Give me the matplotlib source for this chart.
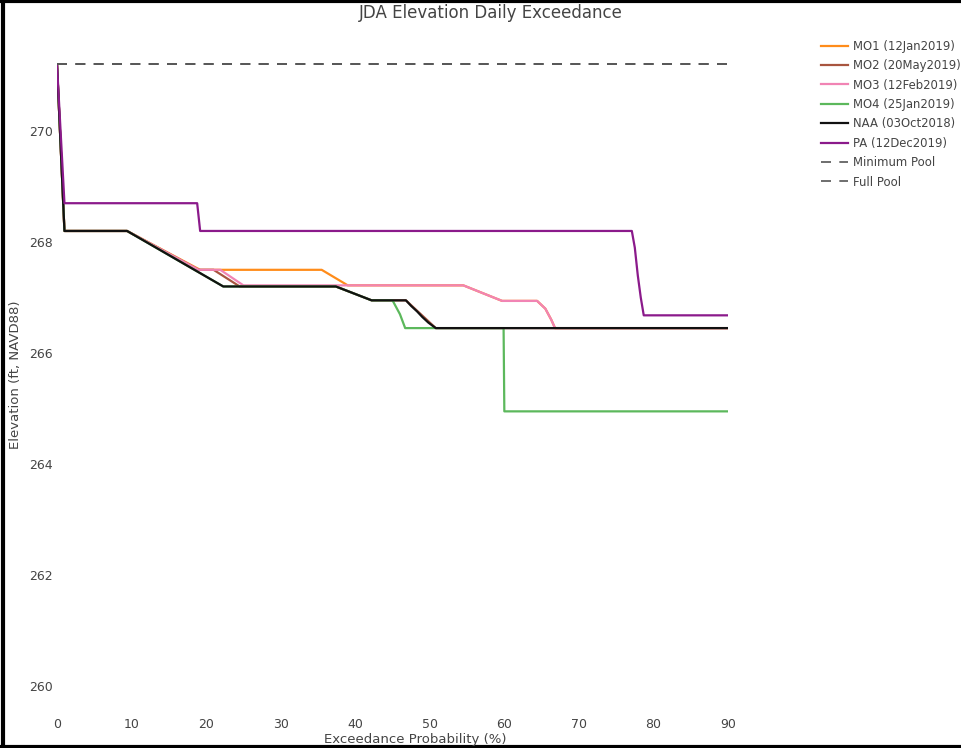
import matplotlib
matplotlib.use("Agg")
import matplotlib.pyplot as plt
from matplotlib.lines import Line2D

# ---- data (exceedance %, elevation ft NAVD88) ----
labels = ["MO1 (12Jan2019)", "MO2 (20May2019)", "MO3 (12Feb2019)",
          "MO4 (25Jan2019)", "NAA (03Oct2018)", "PA (12Dec2019)"]
colors = ["#ff8c1a", "#a8553f", "#f184b4", "#5cb85c", "#111111", "#8b1a8b"]

mo1_x = [0, 1.0, 9.4, 19.2, 35.5, 39.0, 54.5, 59.7, 64.4, 65.5, 66.3, 66.8, 90]
mo1_y = [271.2, 268.2, 268.2, 267.5, 267.5, 267.22, 267.22, 266.94, 266.94,
         266.8, 266.6, 266.45, 266.45]

mo2_x = [0, 1.0, 9.4, 19.0, 21.0, 24.5, 37.4, 42.2, 46.8, 50.8, 90]
mo2_y = [271.2, 268.2, 268.2, 267.5, 267.5, 267.2, 267.2, 266.95, 266.95,
         266.45, 266.45]

mo3_x = [0, 1.0, 9.4, 19.0, 21.9, 25.0, 54.5, 59.7, 64.4, 65.5, 66.3, 66.8, 90]
mo3_y = [271.2, 268.2, 268.2, 267.5, 267.5, 267.22, 267.22, 266.94, 266.94,
         266.8, 266.6, 266.45, 266.45]

mo4_x = [0, 1.0, 9.4, 22.3, 37.4, 42.2, 45.0, 46.0, 46.7, 59.9, 60.0, 90]
mo4_y = [271.2, 268.2, 268.2, 267.2, 267.2, 266.95, 266.95, 266.7, 266.45,
         266.45, 264.95, 264.95]

naa_x = [0, 1.0, 9.4, 22.3, 37.4, 42.2, 46.8, 47.5, 48.3, 49.0, 49.8, 50.8, 90]
naa_y = [271.2, 268.2, 268.2, 267.2, 267.2, 266.95, 266.95, 266.85, 266.75,
         266.65, 266.55, 266.45, 266.45]

pa_x = [0, 1.0, 18.8, 19.2, 77.1, 77.5, 77.9, 78.3, 78.7, 90]
pa_y = [271.2, 268.7, 268.7, 268.2, 268.2, 267.9, 267.4, 267.0, 266.68, 266.68]

pool_x = [0, 90]
min_pool = [271.2, 271.2]
full_pool = [271.2, 271.2]

xticks = [0, 10, 20, 30, 40, 50, 60, 70, 80, 90]
yticks = [260, 262, 264, 266, 268, 270]

W, H = 961, 748
fig = plt.figure(figsize=(W / 100, H / 100), dpi=100)
ax = fig.add_axes([57 / W, 1 - 700 / H, (728 - 57) / W, (700 - 60) / H])

series = [(mo1_x, mo1_y), (mo2_x, mo2_y), (mo3_x, mo3_y),
          (mo4_x, mo4_y), (naa_x, naa_y), (pa_x, pa_y)]
for (x, y), lab, c in zip(series, labels, colors):
    ax.plot(x, y, color=c, lw=1.6, label=lab)
ax.plot(pool_x, min_pool, color="#555555", lw=1.2, dashes=(6, 5), label="Minimum Pool")
ax.plot(pool_x, full_pool, color="#555555", lw=1.2, dashes=(6, 5), label="Full Pool")

ax.set_xlim(0, 90)
ax.set_ylim(259.75, 271.28)
ax.set_xticks(xticks)
ax.set_yticks(yticks)
for s in ax.spines.values():
    s.set_visible(False)
ax.tick_params(length=0, labelsize=9, colors="#444444")
ax.tick_params(axis="x", pad=13)
ax.tick_params(axis="y", pad=3)

fig.text(415 / W, 1 - 739 / H, "Exceedance Probability (%)", ha="center",
         va="center", fontsize=9.5, color="#444444")
fig.text(16 / W, 1 - 375 / H, "Elevation (ft, NAVD88)", ha="center",
         va="center", rotation=90, fontsize=9.5, color="#444444")

fig.text(491 / W, 1 - 13 / H, "JDA Elevation Daily Exceedance", ha="center",
         va="center", fontsize=12, color="#444444")

fig.legend(loc="upper left", bbox_to_anchor=(816 / W, 1 - 35 / H), frameon=False,
           fontsize=8.4, labelcolor="#444444", handlelength=2.3, handletextpad=0.5,
           labelspacing=0.55, borderaxespad=0)

# screenshot frame (left, top, bottom)
for xs, ys in [([0.003, 0.003], [0, 1]), ([0, 1], [0.999, 0.999]),
               ([0, 1], [0.002, 0.002])]:
    fig.add_artist(Line2D(xs, ys, transform=fig.transFigure, color="black", lw=3))

fig.savefig("out.png", dpi=100)
